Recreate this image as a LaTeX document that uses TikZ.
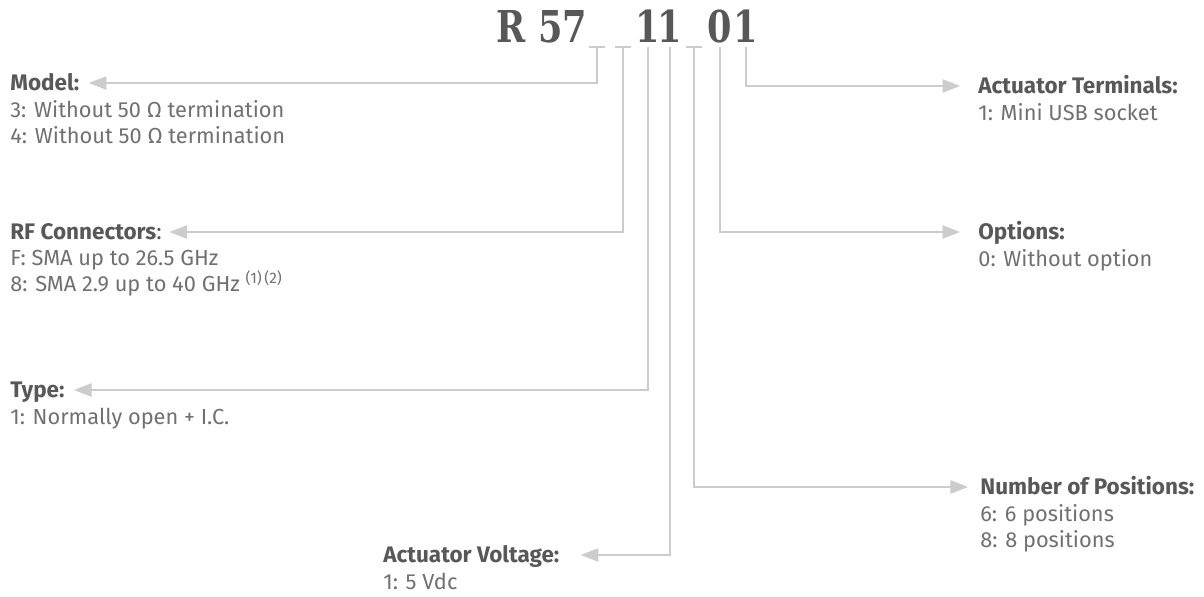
\documentclass[tikz,border=0pt]{standalone}
\usepackage{fontspec}
\setsansfont{Fira Sans}
\newfontfamily\codefont[FakeStretch=0.8]{DejaVu Serif}
\usepackage{tikz}
\usetikzlibrary{arrows.meta,positioning,calc}
\definecolor{ink}{RGB}{88,88,88}
\definecolor{txt}{RGB}{112,112,112}
\definecolor{rule}{RGB}{204,204,204}
\tikzset{
  code/.style={font=\codefont\bfseries\fontsize{25}{25}\selectfont, text=ink,
    inner xsep=0pt, inner ysep=2.8pt, text depth=0pt, anchor=base},
  head/.style={font=\sffamily\bfseries\fontsize{12.8}{14.8}\selectfont, text=ink,
    inner sep=0pt, text height=8.8pt, text depth=0pt, anchor=west},
  desc/.style={font=\sffamily\fontsize{12.4}{14.8}\selectfont, text=txt,
    inner sep=0pt, align=left},
  lead/.style={draw=rule, line width=1.1pt, -{Triangle[length=10pt,width=7.5pt]}},
  slot/.style={draw=rule, line width=1.1pt}
}

\begin{document}
\begin{tikzpicture}[x=0.02cm, y=-0.02cm, node distance=5.3pt]
    \useasboundingbox (0,0) rectangle (1204,596);

    % part number
    \node[code] (r57) at (542,42) {R 57};
    \node[code] (d1) at (648,42) {1};
    \node[code] (d2) at (670,42) {1};
    \node[code] (d3) at (720,42) {0};
    \node[code] (d4) at (746,42) {1};
    \foreach \n/\x in {1/597,2/623,3/694} {
      \coordinate (k\n) at (\x,47);
      \draw[slot] (\x-8,47) -- (\x+8,47);
    }

    % left side
    \node[head] (model) at (10,83) {Model:};
    \node[desc, below=of model.south west, anchor=north west] (modelv)
      {3: Without 50 Ω termination\\4: Without 50 Ω termination};
    \node[head] (rf) at (10,232) {RF Connectors\textmd{:}};
    \node[desc, below=of rf.south west, anchor=north west] (rfv)
      {F: SMA up to 26.5 GHz\\8: SMA 2.9 up to 40 GHz \textsuperscript{(1)\,(2)}};
    \node[head] (type) at (10,390) {Type:};
    \node[desc, below=of type.south west, anchor=north west] (typev)
      {1: Normally open + I.C.};
    \node[head] (volt) at (383,555) {Actuator Voltage:};
    \node[desc, below=of volt.south west, anchor=north west] (voltv) {1: 5 Vdc};

    % right side
    \node[head] (term) at (978,86) {Actuator Terminals:};
    \node[desc, below=of term.south west, anchor=north west] (termv) {1: Mini USB socket};
    \node[head] (opts) at (978,232) {Options:};
    \node[desc, below=of opts.south west, anchor=north west] (optsv) {0: Without option};
    \node[head] (npos) at (980,487) {Number of Positions:};
    \node[desc, below=of npos.south west, anchor=north west] (nposv)
      {6: 6 positions\\8: 8 positions};

    \draw[lead, shorten >=5.2pt] (k1) |- (model.east);
    \draw[lead, shorten >=4.2pt] (k2) |- (rf.east);
    \draw[lead, shorten >=5.2pt] (d1.south) |- (type.east);
    \draw[lead, shorten >=12pt] (d2.south) |- (volt.east);
    \draw[lead, shorten >=6.8pt] (k3) |- (npos.west);
    \draw[lead, shorten >=10.2pt] (d3.south) |- (opts.west);
    \draw[lead, shorten >=10.2pt] (d4.south) |- (term.west);
\end{tikzpicture}
\end{document}
